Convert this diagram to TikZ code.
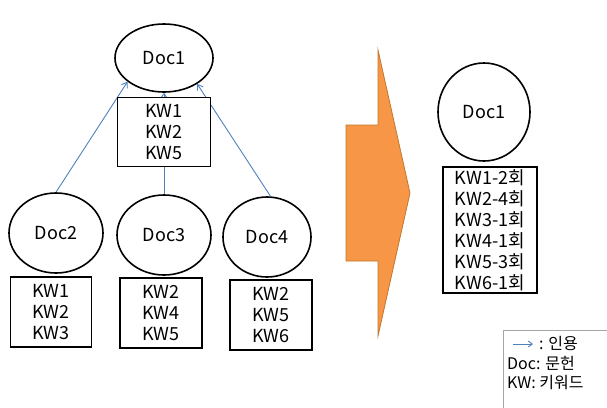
\documentclass[tikz,border=0pt]{standalone}
\usepackage{fontspec}
\setmainfont{Noto Sans CJK KR}
\usetikzlibrary{shapes.geometric,arrows.meta}
\definecolor{citeblue}{HTML}{4F81BD}
\definecolor{arrowfill}{HTML}{F79646}
\definecolor{arrowedge}{HTML}{C0772F}
\tikzset{
  doc/.style={ellipse,draw,line width=1.6pt,fill=white,inner sep=0pt,font=\fontsize{18}{21}\selectfont},
  kwbox/.style={draw,line width=1.6pt,fill=white,inner sep=0pt,align=center,font=\fontsize{18}{21}\selectfont},
  cite/.style={citeblue,line width=0.9pt,-{Straight Barb[length=5pt,width=7pt]}},
}
\begin{document}
\begin{tikzpicture}[x=1pt,y=-1pt]
\useasboundingbox (0,0) rectangle (607,407);

% citations drawn first so the boxes cover them
\node[doc,minimum width=98pt,minimum height=68pt] (d1) at (164,58) {Doc1};
\node[doc,minimum width=94pt,minimum height=80pt] (d2) at (56,233) {Doc2};
\node[doc,minimum width=94pt,minimum height=80pt] (d3) at (164,235) {Doc3};
\node[doc,minimum width=88pt,minimum height=80pt] (d4) at (267,237) {Doc4};

\draw[cite] (d2.north) -- (d1.213);
\draw[cite] (d4.85) -- (d1.322);
\draw[cite] (d3.north) -- (d3.north |- d1.south);

\node[kwbox,minimum width=93pt,minimum height=69pt] (k1) at (164,132) {KW1\\KW2\\KW5};
\node[kwbox,minimum width=81pt,minimum height=70pt] (k2) at (51,312) {KW1\\KW2\\KW3};
\node[kwbox,minimum width=82pt,minimum height=70pt] (k3) at (161,313) {KW2\\KW4\\KW5};
\node[kwbox,minimum width=82pt,minimum height=70pt] (k4) at (271,315) {KW2\\KW5\\KW6};

% big transition arrow
\draw[arrowedge,fill=arrowfill,line width=0.8pt]
  (346,125) -- (378,125) -- (378,50) -- (410,193) -- (378,336) -- (378,261) -- (346,261) -- cycle;

% merged result
\node[doc,minimum width=92pt,minimum height=98pt] (r1) at (484,112) {Doc1};
\node[kwbox,minimum width=94pt,minimum height=126pt] (rk) at (490,230) {KW1-2회\\KW2-4회\\KW3-1회\\KW4-1회\\KW5-3회\\KW6-1회};

% legend
\draw[gray!70,line width=0.7pt] (610,330) -- (503,330) -- (503,410);
\coordinate (la) at (513,344);
\coordinate (lb) at (533,344);
\draw[citeblue,line width=0.9pt,-{Straight Barb[length=4pt,width=6pt]}] (la) -- (lb);
\node[anchor=west,inner sep=0pt,font=\fontsize{16}{20}\selectfont] (l1) at (539,343) {: 인용};
\node[anchor=west,inner sep=0pt,font=\fontsize{16}{20}\selectfont] (l2) at (507,363) {Doc: 문헌};
\node[anchor=west,inner sep=0pt,font=\fontsize{16}{20}\selectfont] (l3) at (507,383) {KW: 키워드};
\end{tikzpicture}
\end{document}
